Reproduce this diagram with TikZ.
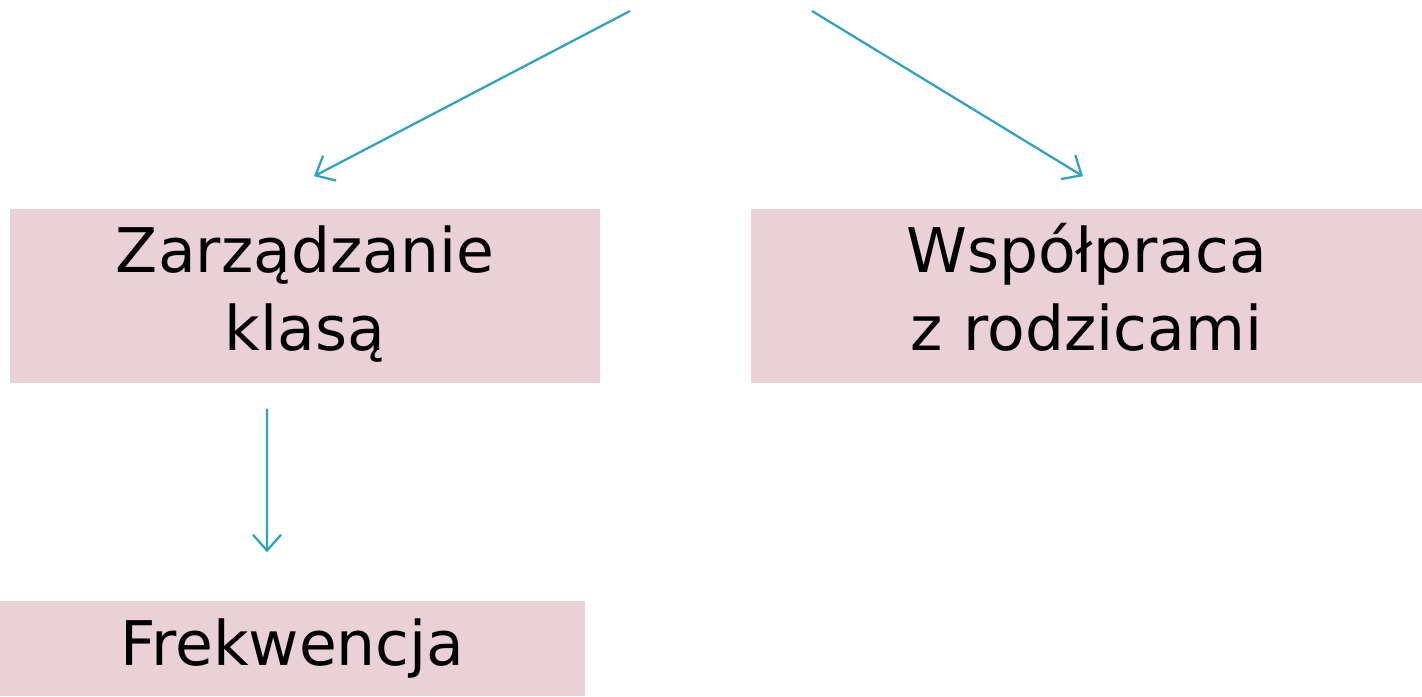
\documentclass[tikz,border=0pt]{standalone}
\usepackage{fontspec}
\setmainfont{DejaVu Sans}
\usepackage{tikz}
\usetikzlibrary{arrows.meta,positioning}
\usepackage{xcolor}
\definecolor{boxpink}{RGB}{233,209,215}
\definecolor{arrowblue}{RGB}{49,163,192}

\begin{document}
\begin{tikzpicture}[
    x=0.01cm, y=-0.01cm,
    every node/.style={font=\fontsize{17.5}{22}\selectfont},
    topic/.style={rectangle, fill=boxpink, inner sep=0pt, minimum width=5.9cm, minimum height=1.74cm, text width=5.9cm, align=center},
    link/.style={draw=arrowblue, line width=0.65pt, -{Straight Barb[length=4.5pt,width=8pt]}}
]
    \useasboundingbox (0,0) rectangle (1422,696);

    % Boxes
    \node[topic] (zarz) at (305,296) {\strut Zarządzanie\\\strut klasą};
    \node[topic, minimum width=6.71cm, text width=6.71cm] (wspol) at (1086.5,296) {\strut Współpraca\\\strut z rodzicami};
    \node[topic, minimum width=5.85cm, text width=5.85cm, minimum height=0.95cm] (frek) at (292.5,648.5) {Frekwencja};

    % Free ends at the top
    \coordinate (startl) at (630,11);
    \coordinate (startr) at (812,11);

    % Connections
    \draw[link] (startl) -- ([xshift=0.09cm,yshift=0.32cm]zarz.north);
    \draw[link] (startr) -- ([xshift=-0.035cm,yshift=0.32cm]wspol.north);
    \draw[link] ([xshift=-0.38cm,yshift=-0.25cm]zarz.south) -- ([xshift=-0.255cm,yshift=0.48cm]frek.north);
\end{tikzpicture}
\end{document}
